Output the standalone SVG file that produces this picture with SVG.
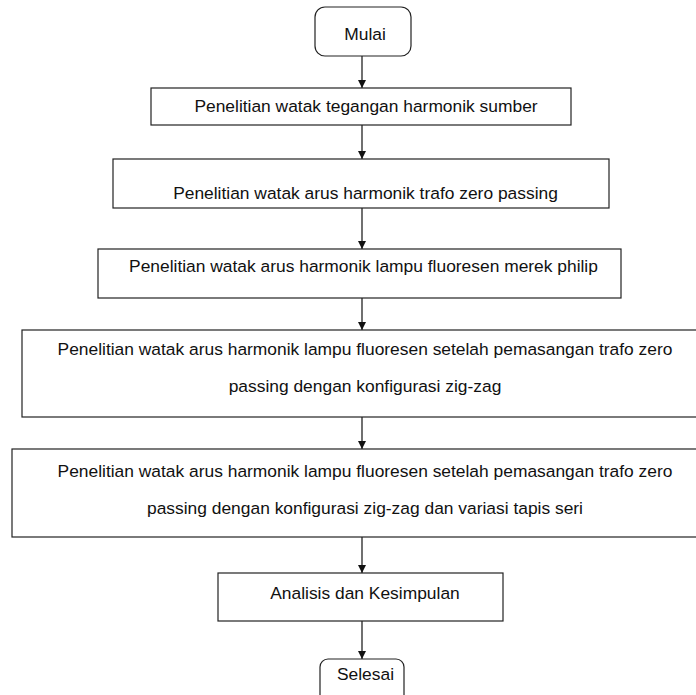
<svg xmlns="http://www.w3.org/2000/svg" width="696" height="695" viewBox="0 0 696 695">
<style>
.box{fill:#fff;stroke:#222;stroke-width:1.2}
.t{font-family:"Liberation Sans",Arial,sans-serif;font-size:17.4px;fill:#111;text-anchor:middle}
.c{stroke:#111;stroke-width:1.2;fill:none}
</style>
<defs>
<marker id="ah" viewBox="0 0 10 10" refX="10" refY="5" markerWidth="8" markerHeight="8" markerUnits="userSpaceOnUse" orient="auto">
<path d="M0,0 L10,5 L0,10 Z" fill="#111"/>
</marker>
</defs>
<rect width="696" height="695" fill="#fff"/>
<g id="connectors">
<line class="c" x1="362" y1="56" x2="362" y2="88" marker-end="url(#ah)"/>
<line class="c" x1="362" y1="125" x2="362" y2="159" marker-end="url(#ah)"/>
<line class="c" x1="362" y1="208" x2="362" y2="249" marker-end="url(#ah)"/>
<line class="c" x1="362" y1="298" x2="362" y2="330" marker-end="url(#ah)"/>
<line class="c" x1="362" y1="417" x2="362" y2="449" marker-end="url(#ah)"/>
<line class="c" x1="362" y1="537" x2="362" y2="573" marker-end="url(#ah)"/>
<line class="c" x1="362" y1="621" x2="362" y2="659" marker-end="url(#ah)"/>
</g>
<g id="mulai">
<rect class="box" x="315" y="7" width="96" height="49" rx="10"/>
<text class="t" x="365" y="40">Mulai</text>
</g>
<g id="step1">
<rect class="box" x="151" y="88" width="420" height="37"/>
<text class="t" x="366" y="112">Penelitian watak tegangan harmonik sumber</text>
</g>
<g id="step2">
<rect class="box" x="113" y="159" width="496" height="49"/>
<text class="t" x="365.5" y="199">Penelitian watak arus harmonik trafo zero passing</text>
</g>
<g id="step3">
<rect class="box" x="98" y="249" width="523" height="49"/>
<text class="t" x="363.5" y="272">Penelitian watak arus harmonik lampu fluoresen merek philip</text>
</g>
<g id="step4">
<rect class="box" x="22" y="330" width="690" height="87"/>
<text class="t" x="365" y="355">Penelitian watak arus harmonik lampu fluoresen setelah pemasangan trafo zero</text>
<text class="t" x="365" y="392">passing dengan konfigurasi zig-zag</text>
</g>
<g id="step5">
<rect class="box" x="12" y="449" width="700" height="88"/>
<text class="t" x="365" y="477">Penelitian watak arus harmonik lampu fluoresen setelah pemasangan trafo zero</text>
<text class="t" x="365" y="514">passing dengan konfigurasi zig-zag dan variasi tapis seri</text>
</g>
<g id="analisis">
<rect class="box" x="218" y="573" width="285" height="48"/>
<text class="t" x="365" y="599">Analisis dan Kesimpulan</text>
</g>
<g id="selesai">
<rect class="box" x="320" y="659" width="84" height="50" rx="8"/>
<text class="t" x="365.5" y="680">Selesai</text>
</g>
</svg>
